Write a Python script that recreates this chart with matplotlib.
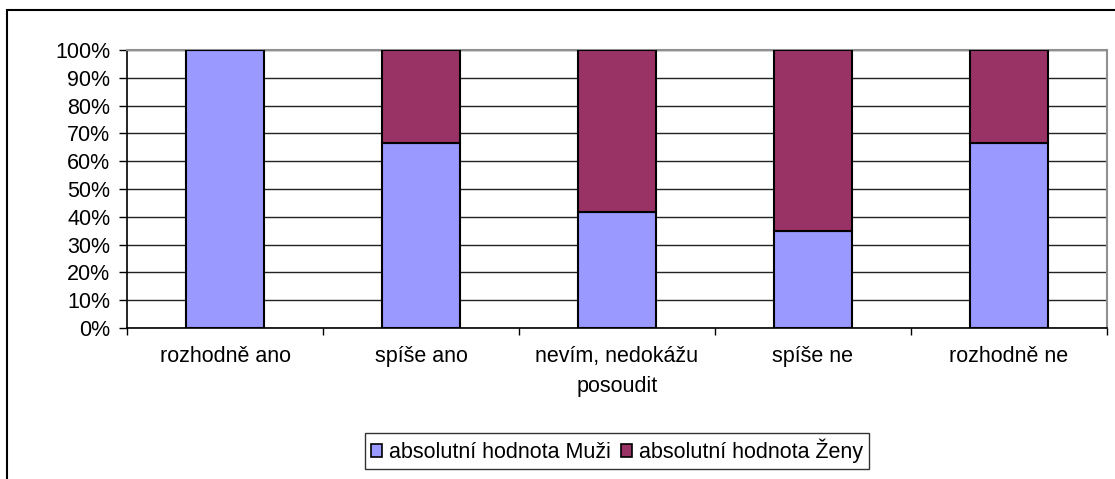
import matplotlib
matplotlib.use("Agg")
import matplotlib.pyplot as plt
import numpy as np
from matplotlib.patches import Rectangle
from matplotlib.ticker import PercentFormatter, FixedLocator

categories = ["rozhodně ano", "spíše ano", "nevím, nedokážu\nposoudit", "spíše ne", "rozhodně ne"]
muzi = [100.0, 66.7, 41.7, 35.0, 66.7]
zeny = [0.0, 33.3, 58.3, 65.0, 33.3]
series_names = ["absolutní hodnota Muži", "absolutní hodnota Ženy"]
colors = ["#9999FF", "#993366"]

plt.rcParams['font.family'] = ['Liberation Sans', 'DejaVu Sans']
FS = 15.5

fig = plt.figure(figsize=(11.15, 4.79), dpi=100)
ax = fig.add_axes([127/1115, 1-328/479, (1107-127)/1115, (328-50)/479])

x = np.arange(len(categories))
ax.bar(x, muzi, width=0.4, color=colors[0], edgecolor="black", linewidth=1.5, label=series_names[0], zorder=3)
ax.bar(x, zeny, width=0.4, bottom=muzi, color=colors[1], edgecolor="black", linewidth=1.5, label=series_names[1], zorder=3)

ax.set_xlim(-0.5, len(categories)-0.5)
ax.set_ylim(0, 100)
ax.set_yticks(np.arange(0, 101, 10))
ax.yaxis.set_major_formatter(PercentFormatter(decimals=0))
ax.grid(axis='y', color='#222222', linewidth=1.0, zorder=0)

ax.set_xticks(x)
ax.set_xticklabels(categories, fontsize=FS, linespacing=1.55)
ax.xaxis.set_minor_locator(FixedLocator(np.arange(-0.5, len(categories), 1.0)))
ax.tick_params(axis='x', which='major', length=0, pad=13)
ax.tick_params(axis='x', which='minor', length=5, width=1, direction='out', color='black')
ax.tick_params(axis='y', length=6, width=1, direction='out', labelsize=FS, pad=6)

for s in ['left', 'bottom']:
    ax.spines[s].set_color('black')
    ax.spines[s].set_linewidth(1.2)
for s in ['top', 'right']:
    ax.spines[s].set_color('#909090')
    ax.spines[s].set_linewidth(1.5)

leg = fig.legend(loc='center', bbox_to_anchor=(617/1115, 1-451/479), ncol=2, fontsize=FS,
                 frameon=True, fancybox=False, shadow=False, edgecolor='black',
                 handlelength=0.5, handleheight=0.5, handletextpad=0.33, columnspacing=0.5,
                 borderpad=0.25, borderaxespad=0)
leg.get_frame().set_linewidth(1.0)
for h in leg.legend_handles:
    h.set_linewidth(1.2)

fig.patches.append(Rectangle((7/1115, -0.05), 1.2, 1-10/479+0.05, transform=fig.transFigure,
                             fill=False, edgecolor='black', linewidth=1.5))

fig.savefig("out.png", dpi=100)
